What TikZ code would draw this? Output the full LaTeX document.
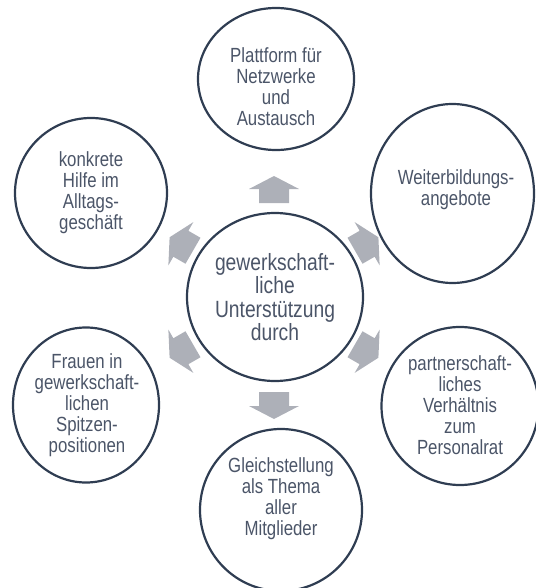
\documentclass[tikz,border=0pt]{standalone}
\usepackage{fontspec}
\setmainfont[FakeStretch=0.82]{Liberation Sans}
\usetikzlibrary{shapes.geometric}
\definecolor{ringcol}{HTML}{2F3D52}
\definecolor{txtcol}{HTML}{4B5568}
\definecolor{arrcol}{HTML}{ADB0B8}
\tikzset{
  ring/.style={ellipse, draw=ringcol, line width=2.2pt, inner sep=0pt},
  lbl/.style={text=txtcol, align=center, inner sep=0pt, font=\fontsize{20.5}{21}\selectfont},
  clbl/.style={text=txtcol, align=center, inner sep=0pt, font=\fontsize{23.5}{23.5}\selectfont},
  barrow/.style={fill=arrcol}
}
\newcommand{\blockarr}[2]{%
  \fill[barrow, shift={#1}, rotate=#2] (13.5pt,0pt) -- (0.5pt,25pt) -- (0.5pt,15pt) -- (-13.5pt,15pt)
    -- (-13.5pt,-15pt) -- (0.5pt,-15pt) -- (0.5pt,-25pt) -- cycle;}
\begin{document}
\begin{tikzpicture}[x=1pt,y=-1pt]
\useasboundingbox (0,0) rectangle (535,588);
% hub
\node[ring, minimum width=176pt, minimum height=168pt] (hub) at (275,297) {};
\node[clbl] (hubtxt) at (275,297) {gewerkschaft-\\liche\\Unterstützung\\durch};
% satellites
\node[ring, minimum width=156pt, minimum height=142pt] (top) at (276,79) {};
\node[lbl] (toptxt) at (276,87) {Plattform für\\Netzwerke\\und\\Austausch};
\node[ring, minimum width=163pt, minimum height=179pt] (tr) at (452.5,193.5) {};
\node[lbl] (trtxt) at (456,190) {Weiterbildungs-\\angebote};
\node[ring, minimum width=157pt, minimum height=158pt] (br) at (460,406) {};
\node[lbl] (brtxt) at (460,405) {partnerschaft-\\liches\\Verhältnis\\zum\\Personalrat};
\node[ring, minimum width=162pt, minimum height=162pt] (bot) at (281,510) {};
\node[lbl] (bottxt) at (281,499) {Gleichstellung\\als Thema\\aller\\Mitglieder};
\node[ring, minimum width=146pt, minimum height=155pt] (bl) at (86,405) {};
\node[lbl] (bltxt) at (87,405) {Frauen in\\gewerkschaft-\\lichen\\Spitzen-\\positionen};
\node[ring, minimum width=152pt, minimum height=150pt] (tl) at (91,193) {};
\node[lbl] (tltxt) at (91,193) {konkrete\\Hilfe im\\Alltags-\\geschäft};
% block arrows
\blockarr{(274,189.5)}{90}
\blockarr{(366.7,244)}{30}
\blockarr{(366.7,351)}{-30}
\blockarr{(274,405.5)}{-90}
\blockarr{(181.3,351)}{-150}
\blockarr{(181.3,244)}{150}
\end{tikzpicture}
\end{document}
